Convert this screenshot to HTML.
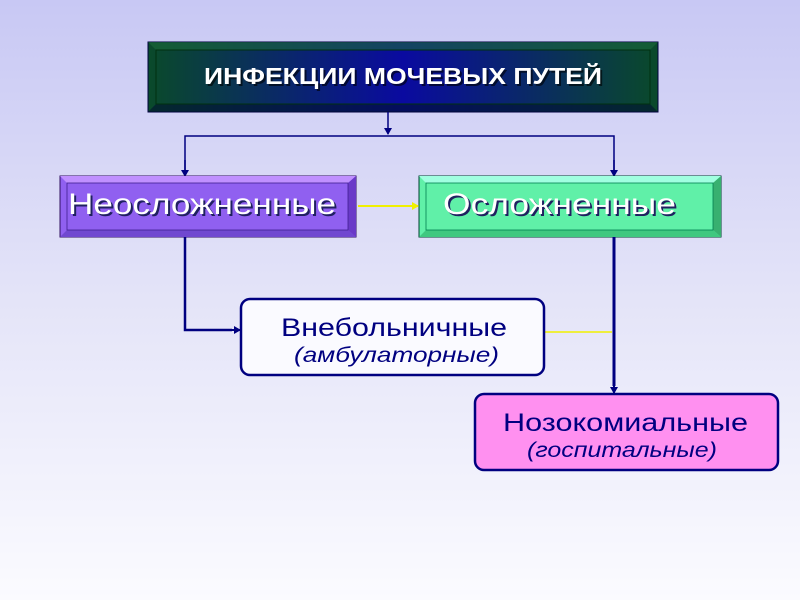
<!DOCTYPE html>
<html><head><meta charset="utf-8"><style>
html,body{margin:0;padding:0;width:800px;height:600px;overflow:hidden}
body{background:linear-gradient(#c8c8f4 0%,#e4e4f8 50%,#fbfbff 100%)}
text{font-family:"Liberation Sans",sans-serif}
</style></head><body>
<svg width="800" height="600" viewBox="0 0 800 600">
<defs>
<linearGradient id="tg" x1="0" y1="0" x2="1" y2="0">
<stop offset="0" stop-color="#0a4a2a"/><stop offset="0.5" stop-color="#0a0aa0"/><stop offset="1" stop-color="#0a4a2a"/>
</linearGradient>
<marker id="ah" markerWidth="8" markerHeight="8" refX="6" refY="4" orient="auto" markerUnits="userSpaceOnUse"><path d="M0,0 L7,4 L0,8 z" fill="#000080"/></marker>
<marker id="ay" markerWidth="8" markerHeight="8" refX="6" refY="4" orient="auto" markerUnits="userSpaceOnUse"><path d="M0,0 L7,4 L0,8 z" fill="#f0f000"/></marker>
</defs>
<rect x="148" y="42" width="510" height="70" fill="url(#tg)" stroke="#000040"/>
<polygon points="148,42 658,42 650,50 156,50" fill="#1a6a3a" opacity=".6"/>
<polygon points="148,112 658,112 650,104 156,104" fill="#001030" opacity=".6"/>
<rect x="156" y="50" width="494" height="54" fill="none" stroke="#003010"/>
<text x="206" y="86" font-size="23" font-weight="bold" fill="#000" opacity=".6" textLength="398" lengthAdjust="spacingAndGlyphs">ИНФЕКЦИИ МОЧЕВЫХ ПУТЕЙ</text>
<text x="204" y="84" font-size="23" font-weight="bold" fill="#fff" textLength="398" lengthAdjust="spacingAndGlyphs">ИНФЕКЦИИ МОЧЕВЫХ ПУТЕЙ</text>
<line x1="388" y1="112" x2="388" y2="134" stroke="#000080" stroke-width="1.5" marker-end="url(#ah)"/>
<polyline points="185,176 185,136 614,136 614,176" fill="none" stroke="#000080" stroke-width="1.5"/>
<line x1="185" y1="160" x2="185" y2="176" stroke="#000080" stroke-width="1.5" marker-end="url(#ah)"/>
<line x1="614" y1="160" x2="614" y2="176" stroke="#000080" stroke-width="1.5" marker-end="url(#ah)"/>
<rect x="60" y="176" width="296" height="61" fill="#9060f0" stroke="#301060"/>
<polygon points="60,176 356,176 348,183 67,183" fill="#c090ff"/>
<polygon points="356,176 356,237 348,230 348,183" fill="#6a3ac8"/>
<polygon points="60,237 356,237 348,230 67,230" fill="#7048d0"/>
<rect x="67" y="183" width="281" height="47" fill="none" stroke="#402090" stroke-width=".8"/>
<text x="70" y="216" font-size="30" fill="#202060" textLength="268" lengthAdjust="spacingAndGlyphs">Неосложненные</text>
<text x="68" y="214" font-size="30" fill="#fff" textLength="268" lengthAdjust="spacingAndGlyphs">Неосложненные</text>
<rect x="419" y="176" width="302" height="61" fill="#60f0a8" stroke="#004030"/>
<polygon points="419,176 721,176 713,183 426,183" fill="#a0ffe0"/>
<polygon points="721,176 721,237 713,230 713,183" fill="#38b070"/>
<polygon points="419,237 721,237 713,230 426,230" fill="#40c880"/>
<rect x="426" y="183" width="287" height="47" fill="none" stroke="#008050" stroke-width=".8"/>
<text x="445" y="216" font-size="30" fill="#202060" textLength="233" lengthAdjust="spacingAndGlyphs">Осложненные</text>
<text x="443" y="214" font-size="30" fill="#fff" textLength="233" lengthAdjust="spacingAndGlyphs">Осложненные</text>
<line x1="358" y1="206" x2="418" y2="206" stroke="#f0f000" stroke-width="2" marker-end="url(#ay)"/>
<polyline points="185,237 185,330 232,330" fill="none" stroke="#000080" stroke-width="2.5"/>
<line x1="228" y1="330" x2="240" y2="330" stroke="#000080" stroke-width="2" marker-end="url(#ah)"/>
<line x1="614" y1="237" x2="614" y2="386" stroke="#000080" stroke-width="3"/>
<line x1="614" y1="380" x2="614" y2="393" stroke="#000080" stroke-width="2" marker-end="url(#ah)"/>
<line x1="545" y1="332" x2="612" y2="332" stroke="#f0f000" stroke-width="1.5"/>
<rect x="241" y="299" width="303" height="76" rx="9" fill="#fafaff" stroke="#000080" stroke-width="2.5"/>
<text x="281" y="336" font-size="25" fill="#000080" textLength="226" lengthAdjust="spacingAndGlyphs">Внебольничные</text>
<text x="294" y="362" font-size="21" font-style="italic" fill="#000080" textLength="205" lengthAdjust="spacingAndGlyphs">(амбулаторные)</text>
<rect x="475" y="394" width="303" height="76" rx="9" fill="#ff90f0" stroke="#000080" stroke-width="2.5"/>
<text x="503" y="431" font-size="25" fill="#000080" textLength="245" lengthAdjust="spacingAndGlyphs">Нозокомиальные</text>
<text x="527" y="457" font-size="21" font-style="italic" fill="#000080" textLength="190" lengthAdjust="spacingAndGlyphs">(госпитальные)</text>
</svg>
</body></html>
